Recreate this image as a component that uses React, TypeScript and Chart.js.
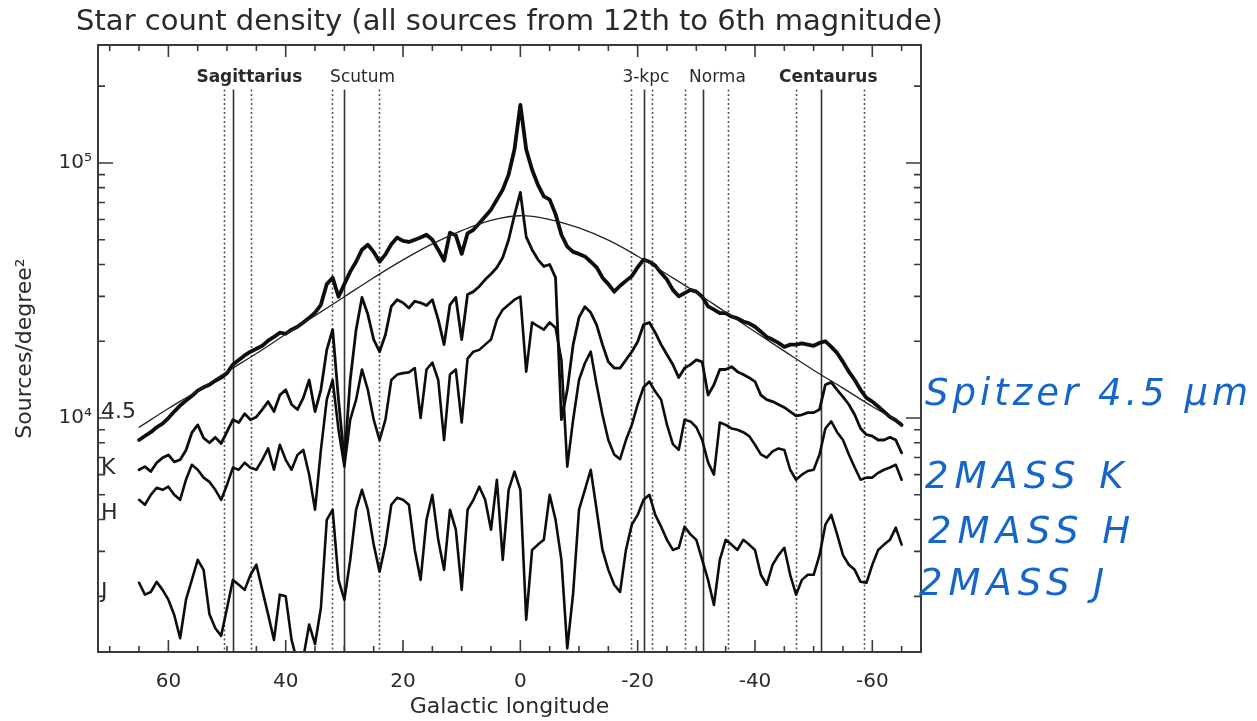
import { useEffect, useRef } from 'react';
import { Chart, registerables } from 'chart.js';

Chart.register(...registerables);

// Galactic longitude samples (degrees)
const LONGITUDE = [
  65, 64, 63, 62, 61, 60, 59, 58, 57, 56, 55, 54, 53, 52, 51, 50, 49, 48, 47, 46,
  45, 44, 43, 42, 41, 40, 39, 38, 37, 36, 35, 34, 33, 32, 31, 30, 29, 28, 27, 26,
  25, 24, 23, 22, 21, 20, 19, 18, 17, 16, 15, 14, 13, 12, 11, 10, 9, 8, 7, 6,
  5, 4, 3, 2, 1, 0, -1, -2, -3, -4, -5, -6, -7, -8, -9, -10, -11, -12, -13, -14,
  -15, -16, -17, -18, -19, -20, -21, -22, -23, -24, -25, -26, -27, -28, -29, -30, -31, -32, -33, -34,
  -35, -36, -37, -38, -39, -40, -41, -42, -43, -44, -45, -46, -47, -48, -49, -50, -51, -52, -53, -54,
  -55, -56, -57, -58, -59, -60, -61, -62, -63, -64, -65,
];

// Sources / degree^2
const SPITZER_45 = [
  8200, 8500, 8800, 9200, 9500, 10000, 10600, 11200, 11700, 12200,
  12800, 13200, 13500, 14000, 14400, 15000, 16200, 16900, 17600, 18200,
  18700, 19200, 20100, 20800, 21600, 21400, 22200, 22800, 23700, 24700,
  25900, 27800, 33500, 35500, 29900, 33500, 37500, 41000, 45700, 47800,
  44800, 41000, 43800, 48000, 51000, 49500, 49000, 50000, 51000, 52300,
  50000, 45700, 41400, 53300, 52000, 44000, 53000, 54700, 58000, 61700,
  65600, 71800, 78600, 90000, 113000, 169000, 113000, 94000, 82000, 74000,
  71800, 63000, 52300, 47000, 44800, 44000, 43000, 41000, 39000, 35500,
  33500, 31300, 33000, 34500, 36000, 39000, 41800, 41000, 39600, 37000,
  34900, 31800, 30000, 30900, 31800, 31300, 29900, 27400, 26600, 25800,
  25800, 25000, 24600, 23900, 23500, 22800, 21800, 20800, 20300, 19700,
  19000, 19400, 19400, 19600, 19400, 19200, 19700, 20000, 19000, 18000,
  16600, 15200, 14100, 12900, 12000, 11600, 11100, 10600, 10100, 9800, 9400,
];

const MASS_K = [
  6270, 6450, 6170, 6680, 6980, 7170, 6730, 6860, 7480, 8760,
  9400, 8350, 8000, 8400, 7950, 8850, 9850, 9600, 10400, 9850,
  10100, 10800, 11600, 10600, 12300, 12900, 11300, 10800, 12000, 14100,
  10600, 12900, 18500, 22200, 11800, 6860, 14100, 22200, 29700, 25500,
  20300, 18200, 21200, 27400, 29100, 28300, 27000, 28700, 28300, 27600,
  29100, 24300, 19400, 27800, 29700, 20300, 30500, 31300, 32800, 34900,
  36700, 38900, 42600, 50000, 62500, 76700, 51300, 45700, 41800, 39300,
  40000, 35500, 9850, 12900, 19400, 24800, 27300, 25900, 23200, 19400,
  16600, 15700, 15700, 16900, 18200, 19900, 23200, 23700, 21600, 19400,
  17700, 16200, 14400, 15700, 16200, 16900, 16600, 12300, 13500, 15500,
  15500, 15900, 15200, 14800, 14400, 13900, 12300, 11800, 11600, 11300,
  11000, 10600, 10200, 10300, 10500, 10500, 10800, 13500, 13800, 12900,
  12100, 11300, 10300, 9100, 8600, 8500, 8200, 8200, 8400, 8200, 7300,
];

const MASS_H = [
  4780, 4570, 5000, 5330, 5230, 5380, 5000, 4780, 5730, 6560,
  6270, 5840, 5620, 5230, 4780, 5480, 6390, 6270, 6680, 6390,
  6270, 6860, 7600, 6270, 7860, 6860, 6270, 7170, 7500, 5990,
  4370, 7500, 11800, 14100, 9000, 6450, 9850, 11800, 15500, 12900,
  9850, 8200, 9850, 14100, 14800, 15000, 15100, 15700, 10000, 15500,
  16500, 14100, 8200, 14800, 15500, 9600, 17100, 18200, 18500, 19400,
  20300, 24300, 26600, 27800, 29100, 29900, 15200, 23700, 22900, 22200,
  23700, 22600, 16900, 6450, 9850, 14100, 16400, 18200, 13500, 10300,
  8200, 7200, 6900, 8200, 9400, 11300, 13200, 13900, 12700, 11800,
  9400, 7900, 7500, 9850, 9700, 9200, 8200, 6700, 6000, 9600,
  9400, 9100, 9000, 8800, 8500, 7860, 7200, 7000, 7400, 7600,
  7500, 6270, 5730, 6000, 6200, 6270, 7200, 9100, 9700, 8800,
  8200, 7200, 6400, 5730, 5840, 5840, 6100, 6270, 6400, 6560, 5730,
];

const MASS_J = [
  2260, 2030, 2080, 2280, 2120, 1940, 1690, 1370, 1940, 2320,
  2780, 2540, 1700, 1500, 1400, 1800, 2320, 2220, 2120, 2430,
  2660, 2120, 1700, 1350, 2030, 2000, 1350, 1100, 1150, 1550,
  1300, 1800, 3990, 4370, 2320, 1940, 2780, 4370, 5230, 4370,
  3190, 2500, 3190, 4570, 4870, 4780, 4570, 3040, 2320, 3990,
  5000, 3330, 2540, 4370, 3650, 2120, 4370, 4780, 5380, 4780,
  3650, 5730, 2780, 5230, 6160, 5230, 1620, 3040, 3190, 3330,
  5000, 3990, 2780, 1250, 2060, 4370, 5230, 6270, 4370, 3040,
  2540, 2220, 2080, 3040, 3820, 4170, 4780, 5000, 4170, 3750,
  3330, 3040, 3100, 3750, 3500, 3330, 2780, 2320, 1850, 2780,
  3330, 3190, 3040, 3330, 3190, 3040, 2430, 2220, 2660, 2900,
  3100, 2430, 2030, 2320, 2430, 2430, 2900, 3820, 4170, 3500,
  2900, 2660, 2540, 2280, 2260, 2660, 3040, 3190, 3330, 3720, 3190,
];

// Smooth model curve
const MODEL_LONGITUDE = [65, 60, 55, 50, 45, 40, 35, 30, 25, 20, 15, 10, 5, 0, -5, -10, -15, -20, -25, -30, -35, -40, -45, -50, -55, -60, -65];
const MODEL = [9200, 10900, 12800, 15200, 17900, 21300, 25200, 29900, 35500, 41700, 48200, 54300, 59600, 62100, 60000, 55600, 49800, 43100, 36600, 31000, 26000, 21800, 18300, 15400, 13100, 11100, 9550];

// Axes
const X_MIN = -68.3;
const X_MAX = 72;
const Y_MIN = 1210;
const Y_MAX = 290000;
const X_TICKS = [60, 40, 20, 0, -20, -40, -60];
const Y_TICKS = [10000, 100000];
const Y_TICK_LABELS = ['10\u2074', '10\u2075'];

// Spiral arm tangents
const ARM_NAMES = ['Sagittarius', 'Scutum', '3-kpc', 'Norma', 'Centaurus'];
const ARM_LABEL_L = [46.2, 26.9, -21.4, -33.6, -52.5];
const ARM_BOLD = [true, false, false, false, true];
const TANGENT_SOLID = [49.0, 30.1, -21.1, -31.2, -51.2];
const TANGENT_DOTTED = [50.6, 46.0, 32.1, 24.1, -18.9, -22.4, -28.0, -35.4, -47.0, -58.5];
const ARM_LABEL_VALUE = 216000;
const TANGENT_TOP_VALUE = 194000;

// Series tags
const SERIES_TAGS = ['4.5', 'K', 'H', 'J'];
const SERIES_TAG_VALUES = [10500, 6380, 4250, 2080];
const SERIES_TAG_L = 71.5;
const SERIES_NAMES = ['Spitzer 4.5 \u00b5m', '2MASS K', '2MASS H', '2MASS J'];
const SERIES_NAME_VALUES = [11270, 5330, 3240, 2030];
const SERIES_NAME_DX = [4, 4, 7, -2];
const SERIES_NAME_SPACING = ['4px', '6px', '6px', '6px'];

const TITLE = 'Star count density (all sources from 12th to 6th magnitude)';
const INK = '#2a2a2a';
const BLUE = '#1566c8';
const FONT = '"DejaVu Sans", sans-serif';

const decorPlugin = {
  id: 'decor',
  beforeDatasetsDraw(chart: any) {
    const { ctx, chartArea: a, scales } = chart;
    const xs = scales.x;
    const ys = scales.y;
    const top = ys.getPixelForValue(TANGENT_TOP_VALUE);
    ctx.save();
    ctx.strokeStyle = '#333';
    ctx.lineWidth = 1.6;
    ctx.setLineDash([]);
    TANGENT_SOLID.forEach((l) => {
      const px = Math.round(xs.getPixelForValue(l)) + 0.5;
      ctx.beginPath();
      ctx.moveTo(px, top);
      ctx.lineTo(px, a.bottom);
      ctx.stroke();
    });
    ctx.strokeStyle = '#555';
    ctx.lineWidth = 1.6;
    ctx.setLineDash([2, 2.5]);
    TANGENT_DOTTED.forEach((l) => {
      const px = Math.round(xs.getPixelForValue(l)) + 0.5;
      ctx.beginPath();
      ctx.moveTo(px, top);
      ctx.lineTo(px, a.bottom);
      ctx.stroke();
    });
    ctx.setLineDash([]);
    // arm labels
    ctx.fillStyle = INK;
    ctx.textAlign = 'center';
    ctx.textBaseline = 'middle';
    const ly = ys.getPixelForValue(ARM_LABEL_VALUE);
    ARM_NAMES.forEach((name, i) => {
      ctx.font = (ARM_BOLD[i] ? 'bold ' : '') + '17px ' + FONT;
      ctx.fillText(name, xs.getPixelForValue(ARM_LABEL_L[i]), ly);
    });
    ctx.restore();
  },
  afterDatasetsDraw(chart: any) {
    const { ctx, chartArea: a, scales } = chart;
    const xs = scales.x;
    const ys = scales.y;
    ctx.save();
    // frame
    ctx.strokeStyle = '#3a3a3a';
    ctx.lineWidth = 2;
    ctx.strokeRect(a.left, a.top, a.right - a.left, a.bottom - a.top);
    // x ticks (inward, bottom and top)
    ctx.lineWidth = 1.6;
    ctx.beginPath();
    for (let l = -65; l <= 70; l += 5) {
      const px = xs.getPixelForValue(l);
      const len = l % 20 === 0 ? 12 : 6;
      ctx.moveTo(px, a.bottom);
      ctx.lineTo(px, a.bottom - len);
      ctx.moveTo(px, a.top);
      ctx.lineTo(px, a.top + len);
    }
    // y ticks (inward, left and right)
    for (let n = 3; n <= 5; n++) {
      for (let k = 1; k <= 9; k++) {
        const v = k * Math.pow(10, n);
        if (v < Y_MIN || v > Y_MAX) continue;
        const py = ys.getPixelForValue(v);
        const len = k === 1 ? 15 : 7;
        ctx.moveTo(a.left, py);
        ctx.lineTo(a.left + len, py);
        ctx.moveTo(a.right, py);
        ctx.lineTo(a.right - len, py);
      }
    }
    ctx.stroke();
    // series tags inside the plot
    ctx.fillStyle = INK;
    ctx.font = '22px ' + FONT;
    ctx.textAlign = 'left';
    ctx.textBaseline = 'middle';
    SERIES_TAGS.forEach((t, i) => {
      ctx.fillText(t, xs.getPixelForValue(SERIES_TAG_L), ys.getPixelForValue(SERIES_TAG_VALUES[i]));
    });
    ctx.restore();
  },
  afterDraw(chart: any) {
    const { ctx, chartArea: a, scales } = chart;
    const ys = scales.y;
    ctx.save();
    ctx.fillStyle = INK;
    ctx.font = '29px ' + FONT;
    ctx.textAlign = 'center';
    ctx.textBaseline = 'middle';
    ctx.fillText(TITLE, (a.left + a.right) / 2, a.top - 23);
    // blue series names on the right
    ctx.fillStyle = BLUE;
    ctx.font = 'italic 37px ' + FONT;
    ctx.textAlign = 'left';
    ctx.textBaseline = 'alphabetic';
    SERIES_NAMES.forEach((name, i) => {
      (ctx as any).letterSpacing = SERIES_NAME_SPACING[i];
      ctx.fillText(name, a.right + SERIES_NAME_DX[i], ys.getPixelForValue(SERIES_NAME_VALUES[i]));
    });
    (ctx as any).letterSpacing = '0px';
    ctx.restore();
  },
};

const toPoints = (xsArr: number[], ysArr: number[]) => xsArr.map((x, i) => ({ x, y: ysArr[i] }));

export default function App() {
  const canvasRef = useRef<HTMLCanvasElement | null>(null);

  useEffect(() => {
    const canvas = canvasRef.current;
    if (!canvas) return;
    const line = (label: string, data: any[], width: number, extra: any = {}) => ({
      label,
      data,
      borderColor: '#0d0d0d',
      borderWidth: width,
      borderJoinStyle: 'round',
      borderCapStyle: 'round',
      pointRadius: 0,
      tension: 0,
      fill: false,
      ...extra,
    });
    const chart = new Chart(canvas, {
      type: 'line',
      data: {
        datasets: [
          line('Model', toPoints(MODEL_LONGITUDE, MODEL), 1.3, { tension: 0.4, borderColor: '#222' }),
          line('2MASS J', toPoints(LONGITUDE, MASS_J), 2.6),
          line('2MASS H', toPoints(LONGITUDE, MASS_H), 2.6),
          line('2MASS K', toPoints(LONGITUDE, MASS_K), 2.8),
          line('Spitzer 4.5 µm', toPoints(LONGITUDE, SPITZER_45), 3.8),
        ],
      },
      options: {
        animation: false,
        responsive: false,
        devicePixelRatio: 1,
        layout: { padding: { left: 0, top: 45, right: 336, bottom: 0 } },
        plugins: {
          legend: { display: false },
          title: { display: false },
          tooltip: { enabled: false },
        },
        scales: {
          x: {
            type: 'linear',
            reverse: true,
            min: X_MIN,
            max: X_MAX,
            grid: { display: false, drawTicks: false },
            border: { display: false },
            afterBuildTicks: (scale: any) => {
              scale.ticks = X_TICKS.map((v) => ({ value: v }));
            },
            afterFit: (scale: any) => {
              scale.height = 69;
            },
            ticks: {
              autoSkip: false,
              maxRotation: 0,
              padding: 18,
              color: INK,
              font: { family: FONT, size: 20 },
              callback: (v: any) => String(v),
            },
            title: {
              display: true,
              text: 'Galactic longitude',
              color: INK,
              font: { family: FONT, size: 22 },
              padding: { top: 0, bottom: 1 },
            },
          },
          y: {
            type: 'logarithmic',
            min: Y_MIN,
            max: Y_MAX,
            grid: { display: false, drawTicks: false },
            border: { display: false },
            afterBuildTicks: (scale: any) => {
              scale.ticks = Y_TICKS.map((v) => ({ value: v }));
            },
            afterFit: (scale: any) => {
              scale.width = 98;
            },
            ticks: {
              autoSkip: false,
              padding: 6,
              color: INK,
              font: { family: FONT, size: 20 },
              callback: (v: any) => {
                const i = Y_TICKS.indexOf(Number(v));
                return i >= 0 ? Y_TICK_LABELS[i] : '';
              },
            },
            title: {
              display: true,
              text: 'Sources/degree\u00b2',
              color: INK,
              font: { family: FONT, size: 22 },
              padding: { top: 12, bottom: 0 },
            },
          },
        },
      },
      plugins: [decorPlugin],
    } as any);
    return () => chart.destroy();
  }, []);

  return (
    <div style={{ position: 'fixed', left: 0, top: 0, width: 1257, height: 721, background: '#fff' }}>
      <canvas ref={canvasRef} width={1257} height={721} style={{ display: 'block', width: 1257, height: 721 }} />
    </div>
  );
}
